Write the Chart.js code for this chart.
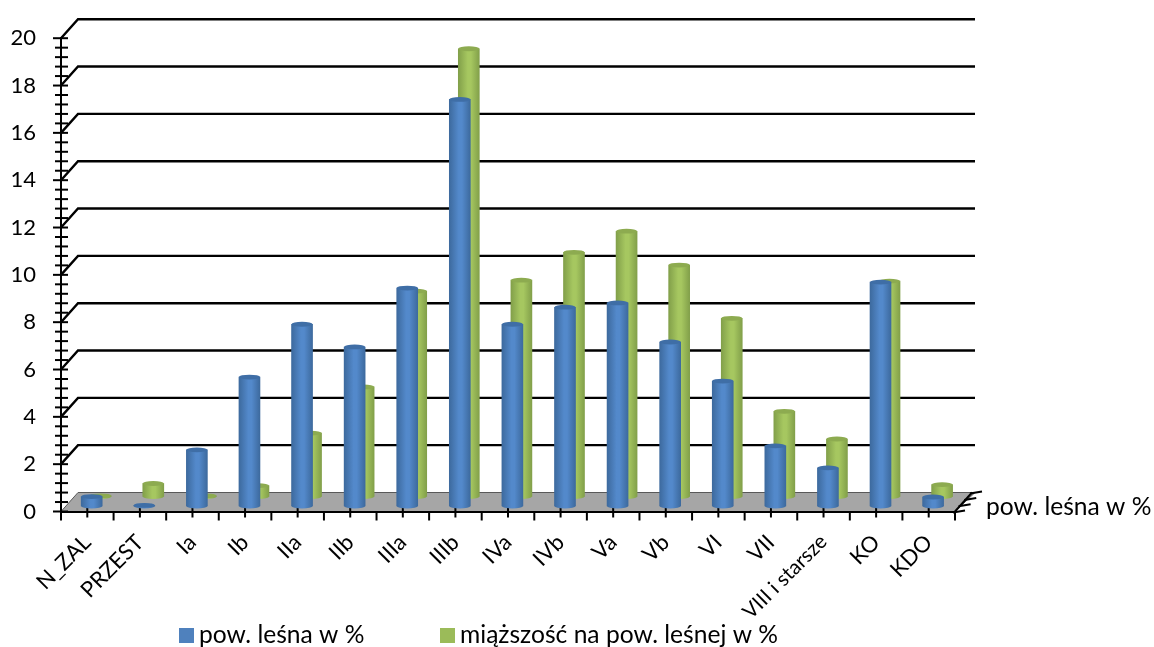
<!DOCTYPE html>
<html>
<head>
<meta charset="utf-8">
<title>pow. leśna</title>
<script src="https://cdn.jsdelivr.net/npm/chart.js@4"></script>
<style>
  html, body { margin: 0; background: #fff; }
  canvas { display: block; }
</style>
</head>
<body>
<canvas id="wykres" width="1154" height="647"></canvas>
<script>
// kategorie i wartości
const kategorie = ["N_ZAL", "PRZEST", "Ia", "Ib", "IIa", "IIb", "IIIa", "IIIb", "IVa", "IVb", "Va", "Vb", "VI", "VII", "VIII i starsze", "KO", "KDO"];
const powLesna = [0.4, 0.03, 2.37, 5.45, 7.68, 6.72, 9.21, 17.18, 7.68, 8.4, 8.58, 6.93, 5.28, 2.54, 1.61, 9.46, 0.38];
const miazszosc = [0.03, 0.55, 0.03, 0.46, 2.68, 4.63, 8.68, 18.92, 9.14, 10.32, 11.21, 9.78, 7.53, 3.6, 2.43, 9.1, 0.5];
const nazwaSerii = ["pow. leśna w %", "miąższość na pow. leśnej w %"];
const podzialkaDrobna = [0.4, 0.8, 1.2, 1.6];

const czcionka = "Lato";
const glebokosc = { x: 17, y: -19 };
const scianaPrawa = 975;
const promienWieka = 2.4;

// odcienie walca: krawędź, środek, wieczko
const odcienie = [
  { krawedz: "#3d6a9e", srodek: "#5389cb", wieko: "#3f6ea6", dx: 4.4, dy: -5.5 },
  { krawedz: "#82a04a", srodek: "#a6c760", wieko: "#8dab50", dx: 13.4, dy: -15 }
];

function gradientWalca(context) {
  const chart = context.chart;
  const s = odcienie[context.datasetIndex];
  // bez indeksu punktu (kontekst całej serii) zostaje kolor jednolity
  if (context.dataIndex === undefined) return s.srodek;
  const x = chart.scales.x.getPixelForValue(context.dataIndex);
  if (!isFinite(x)) return s.srodek;
  const pol = 10.5;
  const g = chart.ctx.createLinearGradient(x - pol, 0, x + pol, 0);
  g.addColorStop(0, s.krawedz);
  g.addColorStop(0.45, s.srodek);
  g.addColorStop(0.6, s.srodek);
  g.addColorStop(1, s.krawedz);
  return g;
}

function linia(ctx, x1, y1, x2, y2) {
  ctx.beginPath();
  ctx.moveTo(x1, y1);
  ctx.lineTo(x2, y2);
  ctx.stroke();
}

// ściana, podłoga i podziałki osi
const tloWykresu = {
  id: "tloWykresu",
  beforeDraw(chart) {
    const ctx = chart.ctx;
    const { x: osX, y: osY } = chart.scales;
    const dol = osY.getPixelForValue(0);
    const lewo = osX.left, prawo = osX.right;

    ctx.save();
    ctx.fillStyle = "#a6a6a6";
    ctx.strokeStyle = "#595959";
    ctx.lineWidth = 1;
    ctx.beginPath();
    ctx.moveTo(lewo, dol);
    ctx.lineTo(lewo + glebokosc.x, dol + glebokosc.y);
    ctx.lineTo(scianaPrawa, dol + glebokosc.y);
    ctx.lineTo(prawo, dol);
    ctx.closePath();
    ctx.fill();
    ctx.stroke();

    ctx.strokeStyle = "#000";
    ctx.lineWidth = 2.4;
    osY.ticks.forEach(function (t) {
      if (t.value === 0) return;
      const y = osY.getPixelForValue(t.value);
      ctx.beginPath();
      ctx.moveTo(lewo, y);
      ctx.lineTo(lewo + glebokosc.x, y + glebokosc.y);
      ctx.lineTo(scianaPrawa, y + glebokosc.y);
      ctx.stroke();
    });

    // podziałka osi Y
    ctx.lineWidth = 2;
    osY.ticks.forEach(function (t) {
      const y = osY.getPixelForValue(t.value);
      linia(ctx, lewo - 8, y, lewo + 7, y);
      if (t.value === osY.max) return;
      podzialkaDrobna.forEach(function (d) {
        const ym = osY.getPixelForValue(t.value + d);
        linia(ctx, lewo - 6, ym, lewo + 7, ym);
      });
    });

    // podziałka osi X: środki kategorii i granice
    const krok = (prawo - lewo) / kategorie.length;
    for (let i = 0; i <= kategorie.length; i++) {
      const xg = lewo + krok * i;
      linia(ctx, xg, dol, xg, dol + 9);
      if (i < kategorie.length) {
        const xs = osX.getPixelForValue(i);
        linia(ctx, xs, dol - 7, xs, dol + 6);
      }
    }

    // oś głębokości
    linia(ctx, prawo, dol, prawo + glebokosc.x, dol + glebokosc.y);
    [0, 0.33, 0.66, 1].forEach(function (f) {
      const xd = prawo + glebokosc.x * f;
      const yd = dol + glebokosc.y * f;
      linia(ctx, xd - 2, yd + 1, xd + 10, yd - 1);
    });
    ctx.restore();
  },
  beforeDatasetDraw(chart, args) {
    const s = odcienie[args.index];
    const ctx = chart.ctx;
    ctx.save();
    ctx.translate(s.dx, s.dy);
    // dolna krawędź walca
    args.meta.data.forEach(function (bar) {
      ctx.fillStyle = bar.options.backgroundColor;
      ctx.beginPath();
      ctx.ellipse(bar.x, bar.base, bar.width / 2, promienWieka, 0, 0, Math.PI * 2);
      ctx.fill();
    });
  },
  afterDatasetDraw(chart, args) {
    const s = odcienie[args.index];
    const ctx = chart.ctx;
    // wieczko walca
    args.meta.data.forEach(function (bar) {
      ctx.fillStyle = s.wieko;
      ctx.beginPath();
      ctx.ellipse(bar.x, bar.y, bar.width / 2, promienWieka, 0, 0, Math.PI * 2);
      ctx.fill();
    });
    ctx.restore();
  },
  afterDraw(chart) {
    const ctx = chart.ctx;
    ctx.save();
    ctx.font = "24.6px " + czcionka;
    ctx.fillStyle = "#000";
    ctx.textBaseline = "middle";
    ctx.fillText(nazwaSerii[0], 986, 507);

    // legenda
    const pozycje = [179, 440];
    chart.data.datasets.forEach(function (ds, i) {
      ctx.fillStyle = i === 0 ? "#4f81bd" : "#9bbb59";
      ctx.fillRect(pozycje[i], 628, 15, 15);
      ctx.fillStyle = "#000";
      ctx.fillText(ds.label, pozycje[i] + 20, 635);
    });
    ctx.restore();
  }
};

new Chart(document.getElementById("wykres"), {
  type: "bar",
  data: {
    labels: kategorie,
    datasets: [
      { label: nazwaSerii[0], data: powLesna, clip: false, backgroundColor: gradientWalca },
      { label: nazwaSerii[1], data: miazszosc, clip: false, backgroundColor: gradientWalca }
    ]
  },
  options: {
    responsive: false,
    animation: false,
    layout: { autoPadding: false, padding: { top: 34.5, right: 199 } },
    datasets: { bar: { grouped: false, barThickness: 21, borderWidth: 0 } },
    plugins: { colors: { enabled: false }, legend: { display: false }, tooltip: { enabled: false } },
    scales: {
      x: {
        grid: { display: false, drawTicks: false },
        border: { color: "#000", width: 2 },
        afterFit(s) { s.height = 135.5; },
        ticks: {
          autoSkip: false,
          minRotation: 45,
          maxRotation: 45,
          padding: 18,
          color: "#000",
          // długa etykieta jest węższa, żeby nie wchodziła na legendę
          font: function (context) {
            const dluga = kategorie[context.index] === "VIII i starsze";
            return { family: czcionka, size: dluga ? 20.5 : 22 };
          }
        }
      },
      y: {
        min: 0,
        max: 20,
        grid: { display: false, drawTicks: false },
        border: { color: "#000", width: 2 },
        afterFit(s) { s.width = 61; },
        ticks: {
          stepSize: 2,
          padding: 25,
          color: "#000",
          font: { family: czcionka, size: 22 }
        }
      }
    }
  },
  plugins: [tloWykresu]
});
</script>
</body>
</html>
